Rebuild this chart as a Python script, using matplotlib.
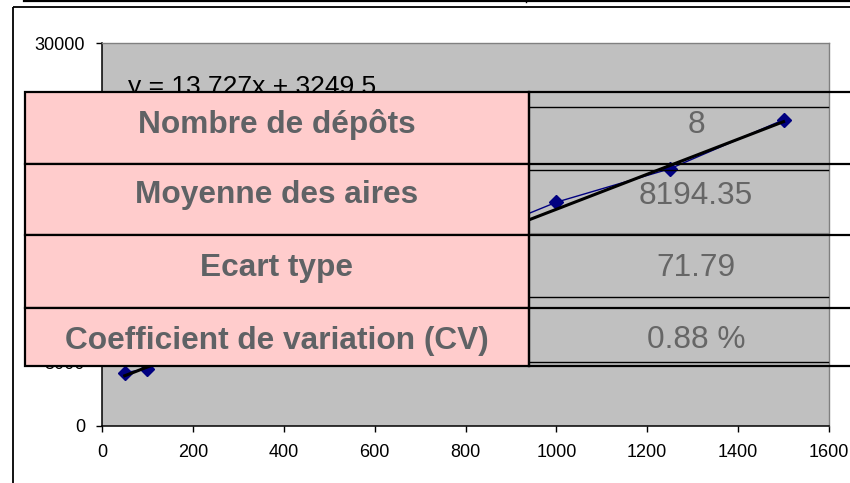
import matplotlib
matplotlib.use("Agg")
import matplotlib.pyplot as plt
from matplotlib.patches import Rectangle

plt.rcParams["font.family"] = ["Liberation Sans", "DejaVu Sans"]

# measured series (concentration vs. peak area)
conc = [50, 100, 1000, 1250, 1500]
area = [4180, 4470, 17530, 20150, 23990]

# linear trendline as reported on the chart
slope = 13.727
intercept = 3249.5
equation = "y = 13.727x + 3249.5"

x_ticks = [0, 200, 400, 600, 800, 1000, 1200, 1400, 1600]
y_ticks = [0, 5000, 10000, 15000, 20000, 25000, 30000]

# summary table pasted over the chart
row_labels = ["Nombre de dépôts", "Moyenne des aires", "Ecart type",
              "Coefficient de variation (CV)"]
row_values = ["8", "8194.35", "71.79", "0.88 %"]

W, H = 850, 483
fig = plt.figure(figsize=(W / 100, H / 100), dpi=100)
fig.patch.set_facecolor("white")

# --- chart ---
ax = fig.add_axes([102 / W, 1 - 426 / H, 727 / W, 383 / H])
ax.set_facecolor("#c0c0c0")
ax.set_xlim(0, 1600)
ax.set_ylim(0, 30000)
ax.set_xticks(x_ticks)
ax.set_yticks(y_ticks)
ax.tick_params(direction="out", length=4.3, width=1.0, labelsize=13, colors="black")
ax.tick_params(axis="x", pad=9)
ax.tick_params(axis="y", pad=8)
for side in ["left", "bottom"]:
    ax.spines[side].set_color("black")
    ax.spines[side].set_linewidth(1.1)
for side in ["top", "right"]:
    ax.spines[side].set_color("#808080")
    ax.spines[side].set_linewidth(1.0)

ax.plot(conc, area, color="#000080", linewidth=1.0, marker="D", markersize=6.8,
        markeredgecolor="#000080", markerfacecolor="#000080", zorder=3)
x_fit = [min(conc), max(conc)]
y_fit = [slope * v + intercept for v in x_fit]
ax.plot(x_fit, y_fit, color="black", linewidth=2.2, zorder=4)

# --- overlay in pixel coordinates ---
ov = fig.add_axes([0, 0, 1, 1])
ov.set_xlim(0, W)
ov.set_ylim(H, 0)
ov.axis("off")

# chart frame and the border of the block above it
ov.add_patch(Rectangle((13, 7), 900, 600, fill=False, edgecolor="black", linewidth=1.3))
ov.plot([24, W], [1, 1], color="black", linewidth=1.6)
ov.plot([526, 526], [0, 2], color="black", linewidth=1.0)

ov.text(128, 94, equation, fontsize=19, color="black", ha="left", va="baseline", zorder=1)

rows_top = [92, 163.5, 235, 307.5]
rows_bot = [163.5, 235, 307.5, 365.5]
baselines = [133, 203.5, 276, 348.5]
thin_lines = [107, 169.5, 297, 362]

for top, bot, lab, val, base in zip(rows_top, rows_bot, row_labels, row_values, baselines):
    ov.add_patch(Rectangle((25, top), 504, bot - top, facecolor="#ffcccc",
                           edgecolor="black", linewidth=1.6, zorder=3))
    ov.text(277, base, lab, fontsize=22.8, fontweight="bold", color="#5f6265",
            ha="center", va="baseline", zorder=5)
    ov.text(696, base, val, fontsize=22.8, color="#666666",
            ha="center", va="baseline", zorder=5)

# right column: open cells with doubled rules
for y in [92, 163.5, 235, 307.5, 365.5]:
    ov.plot([529, W], [y, y], color="black", linewidth=1.6, zorder=4)
for y in thin_lines:
    ov.plot([529, 828], [y, y], color="black", linewidth=1.0, zorder=4)
ov.plot([529, 828], [233, 233], color="#808080", linewidth=0.8, zorder=4)
ov.plot([529.5, 529.5], [92, 365.5], color="black", linewidth=1.6, zorder=4)

fig.savefig("out.png", dpi=100, facecolor="white")
